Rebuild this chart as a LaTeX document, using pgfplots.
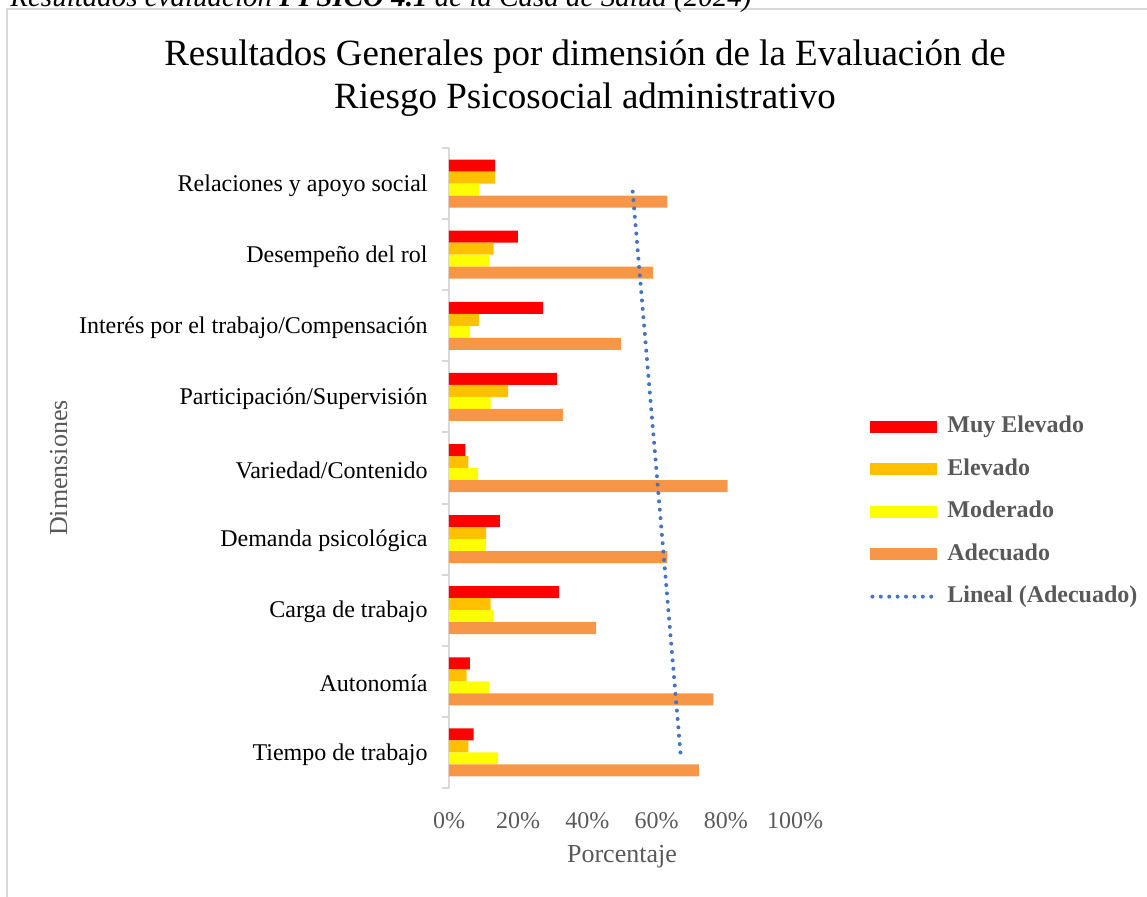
\documentclass[border=0pt]{standalone}
\usepackage{pgfplots}
\pgfplotsset{compat=1.18}
\usepackage{fontspec}
\setmainfont{Liberation Serif}
\definecolor{cME}{HTML}{FF0000}
\definecolor{cE}{HTML}{FFC000}
\definecolor{cM}{HTML}{FFFF00}
\definecolor{cA}{HTML}{F79646}
\definecolor{trend}{HTML}{4472C4}
\definecolor{txtgray}{HTML}{595959}
\definecolor{linegray}{HTML}{D9D9D9}
\begin{document}
\begin{tikzpicture}
\useasboundingbox (0,0) rectangle (573.5pt,448pt);
\clip (0,0) rectangle (573.5pt,448pt);
\draw[linegray, line width=1pt] (3.65pt,-5pt) -- (3.65pt,443.25pt) -- (580pt,443.25pt);
\node[anchor=base west, inner sep=0pt, font=\fontsize{14.5}{17}\selectfont\itshape] at (5pt,444.5pt) {Resultados evaluación \textbf{FPSICO 4.1} de la Casa de Salud (2024)};
\node[anchor=base, inner sep=0pt, font=\fontsize{18.5}{22}\selectfont] at (292.5pt,415pt) {Resultados Generales por dimensión de la Evaluación de};
\node[anchor=base, inner sep=0pt, font=\fontsize{18.5}{22}\selectfont] at (292.5pt,393.5pt) {Riesgo Psicosocial administrativo};
\begin{axis}[
  at={(224.5pt,54pt)}, anchor=south west,
  width=173pt, height=320pt, scale only axis,
  xbar, bar width=6pt,
  xmin=0, xmax=100, ymin=0.5, ymax=9.5,
  axis lines*=left,
  x axis line style={draw=none},
  y axis line style={draw=linegray, line width=1pt},
  xtick={0,20,40,60,80,100},
  xticklabels={0\%,20\%,40\%,60\%,80\%,100\%},
  xtick style={draw=none},
  xticklabel style={anchor=base, yshift=-20pt, text=txtgray, font=\fontsize{12}{14}\selectfont},
  ytick={1,...,9},
  yticklabels={Tiempo de trabajo,Autonomía,Carga de trabajo,Demanda psicológica,Variedad/Contenido,Participación/Supervisión,Interés por el trabajo/Compensación,Desempeño del rol,Relaciones y apoyo social},
  ytick style={draw=none},
  major tick length=0pt,
  minor ytick={0.5,1.5,...,9.5},
  minor tick length=3.5pt,
  tick align=outside,
  minor y tick style={draw=linegray, line width=1pt},
  yticklabel style={inner sep=0pt, xshift=-10.5pt, yshift=-1pt, font=\fontsize{12}{14}\selectfont, text=black},
  xlabel={Porcentaje},
  xlabel style={at={(axis description cs:0.5,-0.117)}, anchor=base, text=txtgray, font=\fontsize{13}{15}\selectfont},
  ylabel={Dimensiones},
  ylabel style={at={(axis description cs:-1.104,0.5)}, anchor=base, text=txtgray, font=\fontsize{13}{15}\selectfont},
  legend style={at={(axis description cs:1.2168,0.584)}, anchor=north west, draw=none, fill=none, inner sep=0pt,
    font=\fontsize{12}{14}\selectfont\bfseries, text=txtgray,
    nodes={inner sep=0pt, text height=9pt, text depth=3pt, anchor=base west},
    row sep=9.25pt, column sep=4pt},
  legend cell align=left,
]
\addplot[fill=cME, draw=none, bar shift=9pt,
  legend image code/.code={\fill[cME] (0pt,0pt) rectangle (33.5pt,6pt);}]
  coordinates {(7.1,1) (6.0,2) (31.8,3) (14.7,4) (4.7,5) (31.2,6) (27.2,7) (19.9,8) (13.3,9)};
\addplot[fill=cE, draw=none, bar shift=3pt,
  legend image code/.code={\fill[cE] (0pt,0pt) rectangle (33.5pt,6pt);}]
  coordinates {(5.6,1) (5.1,2) (12.0,3) (10.7,4) (5.6,5) (17.1,6) (8.7,7) (12.9,8) (13.3,9)};
\addplot[fill=cM, draw=none, bar shift=-3pt,
  legend image code/.code={\fill[cM] (0pt,0pt) rectangle (33.5pt,6pt);}]
  coordinates {(14.2,1) (11.6,2) (12.9,3) (10.7,4) (8.4,5) (12.0,6) (6.1,7) (11.6,8) (8.6,9)};
\addplot[fill=cA, draw=none, bar shift=-9pt,
  legend image code/.code={\fill[cA] (0pt,0pt) rectangle (33.5pt,6pt);}]
  coordinates {(72.2,1) (76.4,2) (42.5,3) (63.1,4) (80.5,5) (32.9,6) (49.7,7) (58.9,8) (63.1,9)};
\addplot[sharp plot, trend, line width=2pt, line cap=round, dash pattern=on 0pt off 4.2pt,
  legend image code/.code={\draw[trend, line width=2pt, line cap=round, dash pattern=on 0pt off 4.2pt] (1pt,3pt) -- (33.5pt,3pt);}]
  coordinates {(66.9,1) (52.9,9)};
\legend{Muy Elevado,Elevado,Moderado,Adecuado,Lineal (Adecuado)}
\end{axis}
\end{tikzpicture}
\end{document}
